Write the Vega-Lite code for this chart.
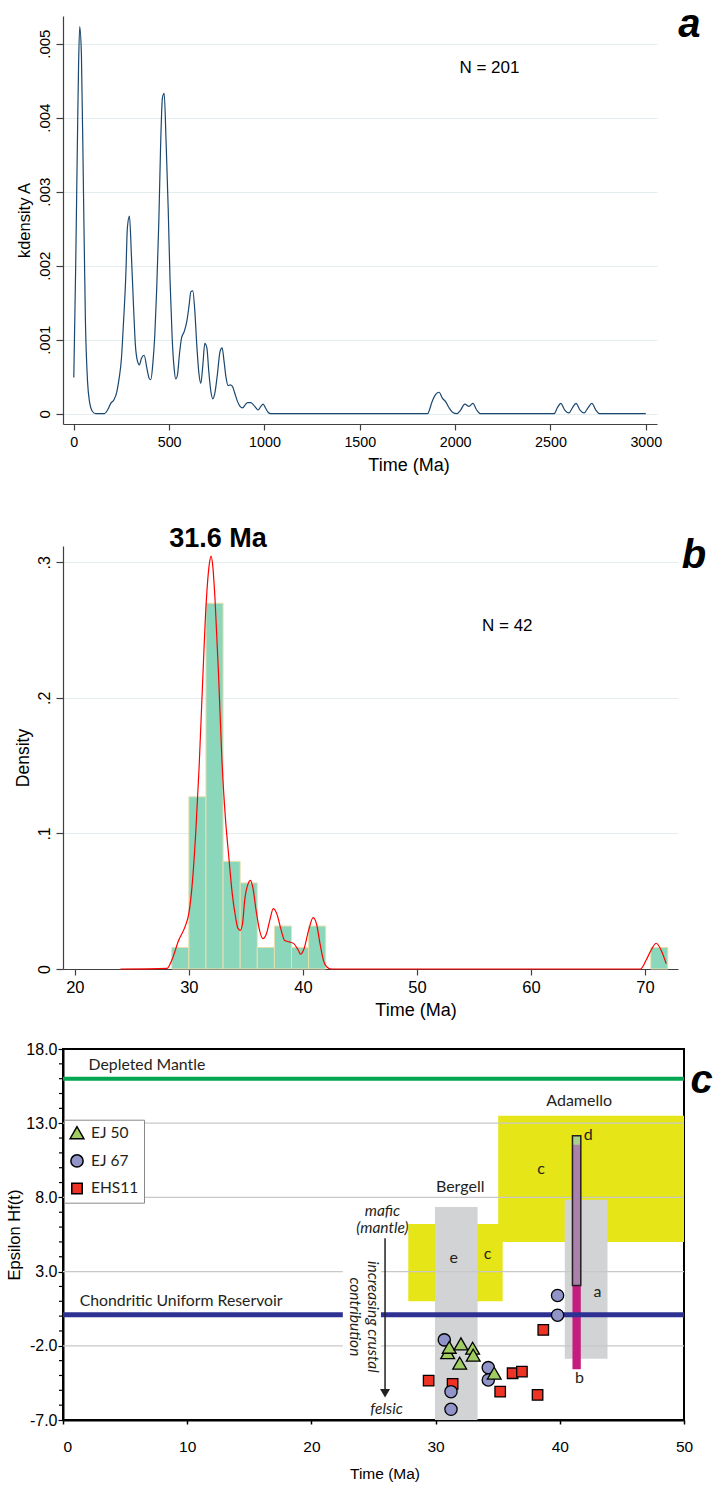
{
  "$schema": "https://vega.github.io/schema/vega-lite/v6.json",
  "padding": {"left": 5, "top": 5, "right": 0, "bottom": 0},
  "background": "white",
  "config": {
    "view": {"stroke": null},
    "font": "Liberation Sans",
    "axis": {"labelFont": "Liberation Sans", "titleFont": "Liberation Sans", "titleFontWeight": "normal", "labelColor": "black", "titleColor": "black", "domainColor": "#404040", "tickColor": "#404040", "grid": false, "labelOverlap": false, "labelFlush": false}
  },
  "bounds": "flush",
  "spacing": 122,
  "vconcat": [
    {
      "width": 594,
      "height": 408,
      "layer": [
        {
          "data": {"values": [
            {"age":0,"density":0.00049},{"age":10,"density":0.0020},{"age":19,"density":0.00368},{"age":25,"density":0.0047},{"age":31,"density":0.00523},{"age":40,"density":0.00485},{"age":51,"density":0.00296},{"age":61,"density":0.00125},{"age":72,"density":0.00044},{"age":82,"density":0.00017},{"age":98,"density":0.00003},{"age":115,"density":0},{"age":159,"density":0},{"age":177,"density":0.00005},{"age":194,"density":0.00014},{"age":211,"density":0.00019},{"age":226,"density":0.0003},{"age":238,"density":0.00048},{"age":250,"density":0.00075},{"age":260,"density":0.0012},{"age":273,"density":0.00188},{"age":281,"density":0.00251},{"age":292,"density":0.00267},{"age":302,"density":0.00215},{"age":313,"density":0.00147},{"age":323,"density":0.00093},{"age":334,"density":0.00071},{"age":344,"density":0.00066},{"age":355,"density":0.00075},{"age":369,"density":0.00079},{"age":383,"density":0.00062},{"age":395,"density":0.00048},{"age":404,"density":0.00046},{"age":414,"density":0.00066},{"age":425,"density":0.00107},{"age":435,"density":0.0017},{"age":446,"density":0.0026},{"age":455,"density":0.00359},{"age":465,"density":0.00427},{"age":474,"density":0.00433},{"age":484,"density":0.00368},{"age":495,"density":0.00278},{"age":505,"density":0.00179},{"age":516,"density":0.00102},{"age":526,"density":0.00062},{"age":535,"density":0.00047},{"age":544,"density":0.00053},{"age":554,"density":0.0008},{"age":565,"density":0.00102},{"age":579,"density":0.00111},{"age":593,"density":0.00125},{"age":605,"density":0.00147},{"age":614,"density":0.00165},{"age":624,"density":0.00166},{"age":635,"density":0.00138},{"age":645,"density":0.00093},{"age":656,"density":0.00055},{"age":666,"density":0.00041},{"age":677,"density":0.00066},{"age":687,"density":0.00095},{"age":698,"density":0.00089},{"age":708,"density":0.00057},{"age":719,"density":0.0003},{"age":729,"density":0.0002},{"age":740,"density":0.00028},{"age":753,"density":0.00053},{"age":767,"density":0.00084},{"age":778,"density":0.00089},{"age":788,"density":0.00071},{"age":799,"density":0.00048},{"age":809,"density":0.00038},{"age":820,"density":0.00039},{"age":832,"density":0.00037},{"age":844,"density":0.00028},{"age":858,"density":0.00017},{"age":872,"density":0.0001},{"age":885,"density":0.00008},{"age":899,"density":0.00012},{"age":911,"density":0.00015},{"age":928,"density":0.00015},{"age":942,"density":0.00012},{"age":955,"density":0.00008},{"age":967,"density":0.00005},{"age":981,"density":0.0001},{"age":993,"density":0.00013},{"age":1005,"density":0.00008},{"age":1019,"density":0.00002},{"age":1033,"density":0},{"age":1855,"density":0},{"age":1880,"density":0.00017},{"age":1898,"density":0.00026},{"age":1916,"density":0.00029},{"age":1933,"density":0.00021},{"age":1951,"density":0.00016},{"age":1968,"density":0.00008},{"age":1986,"density":0.00002},{"age":2009,"density":0},{"age":2029,"density":0.00005},{"age":2050,"density":0.00013},{"age":2073,"density":0.0001},{"age":2093,"density":0.00014},{"age":2113,"density":0.00005},{"age":2134,"density":0},{"age":2519,"density":0},{"age":2536,"density":0.00008},{"age":2554,"density":0.00014},{"age":2575,"density":0.00005},{"age":2597,"density":0.00001},{"age":2615,"density":0.00008},{"age":2634,"density":0.00014},{"age":2655,"density":0.00005},{"age":2676,"density":0.00001},{"age":2697,"density":0.00008},{"age":2717,"density":0.00014},{"age":2738,"density":0.00005},{"age":2758,"density":0},{"age":3000,"density":0}
          ]},
          "mark": {"type": "line", "color": "#1a476f", "strokeWidth": 1.2, "interpolate": "monotone"},
          "encoding": {
            "x": {"field": "age", "type": "quantitative", "scale": {"domain": [-56.6, 3058.7], "nice": false, "zero": false},
              "axis": {"title": "Time (Ma)", "titleX": 345.5, "values": [0,500,1000,1500,2000,2500,3000], "format": "d", "labelOverlap": false, "labelFontSize": 14.3, "titleFontSize": 18, "tickSize": 6, "labelPadding": 5, "titlePadding": 7, "domainWidth": 1.2, "tickWidth": 1.2}},
            "y": {"field": "density", "type": "quantitative", "scale": {"domain": [-0.000139, 0.005374], "nice": false, "zero": false},
              "axis": {"title": "kdensity A", "values": [0,0.001,0.002,0.003,0.004,0.005], "labelOverlap": false, "labelExpr": "datum.value === 0 ? '0' : replace(format(datum.value, '.3f'), '0.', '.')", "labelAngle": 270, "labelAlign": "center", "labelBaseline": "bottom", "labelFontSize": 15, "titleFontSize": 16.5, "tickSize": 7, "labelPadding": 4, "minExtent": 26, "maxExtent": 26, "titlePadding": 5, "grid": true, "gridColor": "#e3edf0", "gridWidth": 1.2, "domainWidth": 1.2, "tickWidth": 1.2}}
          }
        },
        {
          "data": {"values": [{"note": "N = 201", "age": 2180, "density": 0.004673}]},
          "mark": {"type": "text", "font": "Liberation Sans", "fontSize": 17, "align": "center", "baseline": "middle", "color": "black"},
          "encoding": {"x": {"field": "age", "type": "quantitative"}, "y": {"field": "density", "type": "quantitative"}, "text": {"field": "note"}}
        },
        {
          "data": {"values": [{"note": "a", "age": 3229, "density": 0.005085}]},
          "mark": {"type": "text", "font": "Liberation Sans", "fontSize": 40, "fontWeight": "bold", "fontStyle": "italic", "align": "center", "baseline": "alphabetic", "color": "black"},
          "encoding": {"x": {"field": "age", "type": "quantitative"}, "y": {"field": "density", "type": "quantitative"}, "text": {"field": "note"}}
        }
      ]
    },
    {
      "bounds": "flush",
      "spacing": 80,
      "vconcat": [
        {
          "width": 615,
          "height": 423,
          "layer": [
            {
              "data": {"values": [
                {"age": 28.5, "age2": 30, "density": 0.0159},
                {"age": 30, "age2": 31.5, "density": 0.127},
                {"age": 31.5, "age2": 33, "density": 0.2698},
                {"age": 33, "age2": 34.5, "density": 0.0794},
                {"age": 34.5, "age2": 36, "density": 0.0635},
                {"age": 36, "age2": 37.5, "density": 0.0159},
                {"age": 37.5, "age2": 39, "density": 0.0317},
                {"age": 39, "age2": 40.5, "density": 0.0159},
                {"age": 40.5, "age2": 42, "density": 0.0317},
                {"age": 70.5, "age2": 72, "density": 0.0159}
              ]},
              "mark": {"type": "rect", "fill": "#8ad7bb", "stroke": "#eadfae", "strokeWidth": 1},
              "encoding": {
                "x": {"field": "age", "type": "quantitative", "scale": {"domain": [18.965, 72.89], "nice": false, "zero": false},
                  "axis": {"title": "Time (Ma)", "titleX": 352.5, "values": [20,30,40,50,60,70], "labelOverlap": false, "labelFontSize": 16.5, "titleFontSize": 18, "tickSize": 6, "labelPadding": 4, "titlePadding": 6, "domainWidth": 1.2, "tickWidth": 1.2}},
                "x2": {"field": "age2"},
                "y": {"field": "density", "type": "quantitative", "scale": {"domain": [0, 0.312], "nice": false, "zero": false},
                  "axis": {"title": "Density", "values": [0,0.1,0.2,0.3], "labelOverlap": false, "labelExpr": "datum.value === 0 ? '0' : replace(format(datum.value, '.1f'), '0.', '.')", "labelAngle": 270, "labelAlign": "center", "labelBaseline": "bottom", "labelFontSize": 16, "titleFontSize": 17.5, "tickSize": 7, "labelPadding": 4, "minExtent": 27, "maxExtent": 27, "titlePadding": 4, "grid": true, "gridColor": "#e3edf0", "gridWidth": 1.2, "domainWidth": 1.2, "tickWidth": 1.2}},
                "y2": {"datum": 0}
              }
            },
            {
              "data": {"values": [
                {"age":24,"density":0},{"age":28.1,"density":0.0005},{"age":28.5,"density":0.0064},{"age":29.1,"density":0.021},{"age":29.7,"density":0.032},{"age":30.0,"density":0.041},{"age":30.3,"density":0.063},{"age":30.6,"density":0.100},{"age":30.9,"density":0.149},{"age":31.2,"density":0.21},{"age":31.5,"density":0.267},{"age":31.8,"density":0.299},{"age":31.95,"density":0.3046},{"age":32.1,"density":0.297},{"age":32.3,"density":0.272},{"age":32.6,"density":0.218},{"age":32.9,"density":0.154},{"age":33.2,"density":0.112},{"age":33.5,"density":0.083},{"age":33.8,"density":0.056},{"age":34.1,"density":0.038},{"age":34.3,"density":0.030},{"age":34.5,"density":0.0285},{"age":34.7,"density":0.033},{"age":34.9,"density":0.051},{"age":35.2,"density":0.063},{"age":35.4,"density":0.0654},{"age":35.6,"density":0.0605},{"age":35.9,"density":0.043},{"age":36.2,"density":0.0285},{"age":36.5,"density":0.0224},{"age":36.8,"density":0.026},{"age":37.1,"density":0.036},{"age":37.4,"density":0.0445},{"age":37.7,"density":0.041},{"age":38.1,"density":0.0285},{"age":38.4,"density":0.021},{"age":38.8,"density":0.020},{"age":39.2,"density":0.0187},{"age":39.6,"density":0.0138},{"age":39.8,"density":0.011},{"age":40.1,"density":0.015},{"age":40.5,"density":0.0285},{"age":40.9,"density":0.0379},{"age":41.2,"density":0.033},{"age":41.5,"density":0.0187},{"age":41.8,"density":0.0064},{"age":42.1,"density":0.0015},{"age":42.5,"density":0},{"age":69.6,"density":0},{"age":70.1,"density":0.0066},{"age":70.54,"density":0.014},{"age":70.98,"density":0.019},{"age":71.4,"density":0.014},{"age":71.85,"density":0.004}
              ]},
              "mark": {"type": "line", "color": "#ff0000", "strokeWidth": 1.2, "interpolate": "monotone"},
              "encoding": {"x": {"field": "age", "type": "quantitative"}, "y": {"field": "density", "type": "quantitative"}}
            },
            {
              "data": {"values": [{"note": "N = 42", "age": 57.92, "density": 0.253}]},
              "mark": {"type": "text", "font": "Liberation Sans", "fontSize": 17, "align": "center", "baseline": "middle", "color": "black"},
              "encoding": {"x": {"field": "age", "type": "quantitative"}, "y": {"field": "density", "type": "quantitative"}, "text": {"field": "note"}}
            },
            {
              "data": {"values": [{"note": "31.6 Ma", "age": 32.56, "density": 0.3112}]},
              "mark": {"type": "text", "font": "Liberation Sans", "fontSize": 27, "fontWeight": "bold", "align": "center", "baseline": "alphabetic", "color": "black"},
              "encoding": {"x": {"field": "age", "type": "quantitative"}, "y": {"field": "density", "type": "quantitative"}, "text": {"field": "note"}}
            },
            {
              "data": {"values": [{"note": "b", "age": 74.28, "density": 0.2955}]},
              "mark": {"type": "text", "font": "Liberation Sans", "fontSize": 40, "fontWeight": "bold", "fontStyle": "italic", "align": "center", "baseline": "alphabetic", "color": "black"},
              "encoding": {"x": {"field": "age", "type": "quantitative"}, "y": {"field": "density", "type": "quantitative"}, "text": {"field": "note"}}
            }
          ]
        },
        {
          "width": 621,
          "height": 371,
          "view": {"stroke": "black", "strokeWidth": 2},
          "layer": [
            {
              "data": {"values": [
                {"zone": "yellow", "t0": 27.8, "t1": 35.4, "e0": 1.0, "e1": 6.2},
                {"zone": "yellow", "t0": 35.04, "t1": 50, "e0": 5.0, "e1": 13.5},
                {"zone": "grey", "t0": 29.95, "t1": 33.38, "e0": -7, "e1": 7.36},
                {"zone": "grey", "t0": 40.4, "t1": 43.84, "e0": -2.87, "e1": 7.84}
              ]},
              "mark": {"type": "rect"},
              "encoding": {
                "x": {"field": "t0", "type": "quantitative", "scale": {"domain": [0, 50], "nice": false, "zero": false},
                  "axis": {"title": "Time (Ma)", "titleX": 321.5, "values": [0,10,20,30,40,50], "labelOverlap": false, "labelFontSize": 15.5, "titleFontSize": 15.5, "tickSize": 4, "labelPadding": 15, "titlePadding": 12, "domainColor": "black", "domainWidth": 2, "tickColor": "black", "tickWidth": 1.5,
                    "labelAlign": {"condition": {"test": "datum.value === 0", "value": "left"}, "value": "center"}}},
                "x2": {"field": "t1"},
                "y": {"field": "e0", "type": "quantitative", "scale": {"domain": [-7, 18], "nice": false, "zero": false},
                  "axis": {"title": "Epsilon Hf(t)", "values": [-7,-2,3,8,13,18], "labelOverlap": false,
                    "labelExpr": "datum.value < 0 ? '-' + format(-datum.value, '.1f') : format(datum.value, '.1f')",
                    "labelFontSize": 16, "titleFontSize": 16.5, "tickSize": 5, "labelPadding": 1, "minExtent": 37, "maxExtent": 37, "titlePadding": 4, "domainColor": "black", "domainWidth": 2, "tickColor": "black", "tickWidth": 1.2}},
                "y2": {"field": "e1"},
                "fill": {"field": "zone", "type": "nominal", "scale": {"domain": ["yellow", "grey", "b", "d", "d top"], "range": ["#e5e517", "#d1d3d4", "#c41d7f", "#ab80aa", "#a8d08d"]}, "legend": null}
              }
            },
            {
              "data": {"values": [{"e": -6}, {"e": -5}, {"e": -4}, {"e": -3}, {"e": -1}, {"e": 0}, {"e": 1}, {"e": 2}, {"e": 4}, {"e": 5}, {"e": 6}, {"e": 7}, {"e": 9}, {"e": 10}, {"e": 11}, {"e": 12}, {"e": 14}, {"e": 15}, {"e": 16}, {"e": 17}]},
              "mark": {"type": "rule", "color": "black", "strokeWidth": 1.2, "x2Offset": -4},
              "encoding": {"x": {"datum": 0}, "x2": {"datum": 0}, "y": {"field": "e", "type": "quantitative"}}
            },
            {
              "data": {"values": [{"e": 13}, {"e": 8}, {"e": 3}, {"e": -2}]},
              "mark": {"type": "rule", "color": "#c8c8c8", "strokeWidth": 1.3},
              "encoding": {"x": {"datum": 0}, "x2": {"datum": 50}, "y": {"field": "e", "type": "quantitative"}}
            },
            {
              "data": {"values": [
                {"zone": "b", "t0": 41.02, "t1": 41.69, "e0": -3.58, "e1": 2.06},
                {"zone": "d", "t0": 41.02, "t1": 41.69, "e0": 2.06, "e1": 12.15},
                {"zone": "d top", "t0": 41.02, "t1": 41.69, "e0": 11.55, "e1": 12.15}
              ]},
              "mark": {"type": "rect"},
              "encoding": {
                "x": {"field": "t0", "type": "quantitative"}, "x2": {"field": "t1"},
                "y": {"field": "e0", "type": "quantitative"}, "y2": {"field": "e1"},
                "fill": {"field": "zone", "type": "nominal", "legend": null}
              }
            },
            {
              "data": {"values": [{"t0": 41.02, "t1": 41.69, "e0": 2.06, "e1": 12.15}]},
              "mark": {"type": "rect", "fillOpacity": 0, "stroke": "#231f20", "strokeWidth": 1.5},
              "encoding": {"x": {"field": "t0", "type": "quantitative"}, "x2": {"field": "t1"}, "y": {"field": "e0", "type": "quantitative"}, "y2": {"field": "e1"}}
            },
            {
              "data": {"values": [{"e": 16}]},
              "mark": {"type": "rule", "color": "#00a651", "strokeWidth": 4},
              "encoding": {"x": {"datum": 0}, "x2": {"datum": 50}, "y": {"field": "e", "type": "quantitative"}}
            },
            {
              "data": {"values": [{"e": 0.1}]},
              "mark": {"type": "rule", "color": "#2e3192", "strokeWidth": 5},
              "encoding": {"x": {"datum": 0}, "x2": {"datum": 50}, "y": {"field": "e", "type": "quantitative"}}
            },
            {
              "data": {"values": [{"t0": 22.53, "t1": 25.6, "e0": -4.2, "e1": 4.1}]},
              "mark": {"type": "rect", "fill": "white"},
              "encoding": {"x": {"field": "t0", "type": "quantitative"}, "x2": {"field": "t1"}, "y": {"field": "e0", "type": "quantitative"}, "y2": {"field": "e1"}}
            },
            {
              "data": {"values": [{"t": 25.93, "e0": 5.25, "e1": -5.0}]},
              "mark": {"type": "rule", "color": "#231f20", "strokeWidth": 1.5},
              "encoding": {"x": {"field": "t", "type": "quantitative"}, "y": {"field": "e0", "type": "quantitative"}, "y2": {"field": "e1"}}
            },
            {
              "data": {"values": [{"t": 25.93, "e": -5.2}]},
              "mark": {"type": "point", "shape": "triangle-down", "filled": true, "color": "#231f20", "size": 100, "opacity": 1},
              "encoding": {"x": {"field": "t", "type": "quantitative"}, "y": {"field": "e", "type": "quantitative"}}
            },
            {
              "data": {"values": [
                {"sample": "EHS11", "t": 38.67, "e": -0.93},
                {"sample": "EHS11", "t": 29.44, "e": -4.35},
                {"sample": "EHS11", "t": 31.37, "e": -4.57},
                {"sample": "EHS11", "t": 35.2, "e": -5.09},
                {"sample": "EHS11", "t": 36.2, "e": -3.85},
                {"sample": "EHS11", "t": 36.95, "e": -3.74},
                {"sample": "EHS11", "t": 38.21, "e": -5.31},
                {"sample": "EJ 67", "t": 39.82, "e": 1.39},
                {"sample": "EJ 67", "t": 39.82, "e": 0.06},
                {"sample": "EJ 67", "t": 30.7, "e": -1.6},
                {"sample": "EJ 67", "t": 34.24, "e": -3.47},
                {"sample": "EJ 67", "t": 34.24, "e": -4.3},
                {"sample": "EJ 67", "t": 31.24, "e": -5.09},
                {"sample": "EJ 67", "t": 31.24, "e": -6.28},
                {"sample": "EJ 50", "t": 30.97, "e": -2.46},
                {"sample": "EJ 50", "t": 31.1, "e": -2.1},
                {"sample": "EJ 50", "t": 32.04, "e": -1.87},
                {"sample": "EJ 50", "t": 32.98, "e": -2.16},
                {"sample": "EJ 50", "t": 33.03, "e": -2.63},
                {"sample": "EJ 50", "t": 31.94, "e": -3.17},
                {"sample": "EJ 50", "t": 34.72, "e": -3.85}
              ]},
              "mark": {"type": "point", "filled": true, "stroke": "black", "strokeWidth": 1.3, "opacity": 1},
              "encoding": {
                "x": {"field": "t", "type": "quantitative"},
                "y": {"field": "e", "type": "quantitative"},
                "color": {"field": "sample", "type": "nominal", "scale": {"domain": ["EJ 50", "EJ 67", "EHS11"], "range": ["#9fcc63", "#9094c9", "#ee3224"]},
                  "legend": {"title": null, "orient": "none", "legendX": 1, "legendY": 1103.7, "padding": 5, "symbolOffset": 0, "rowPadding": 9.5, "labelOffset": 6, "labelFont": "Lato", "labelFontSize": 15.5, "labelColor": "#231f20", "symbolSize": 85, "fillColor": "white", "strokeColor": "#888888", "cornerRadius": 0,
                    "encode": {"symbols": {"update": {"stroke": {"value": "black"}, "strokeWidth": {"value": 1.3}}}}}},
                "shape": {"field": "sample", "type": "nominal", "scale": {"domain": ["EJ 50", "EJ 67", "EHS11"], "range": ["triangle-up", "circle", "square"]}},
                "size": {"field": "sample", "type": "nominal", "scale": {"domain": ["EJ 50", "EJ 67", "EHS11"], "range": [190, 110, 196]}, "legend": null}
              }
            },
            {
              "data": {"values": [
                {"lbl": "Adamello", "t": 41.56, "e": 14.51},
                {"lbl": "Bergell", "t": 31.98, "e": 8.73},
                {"lbl": "c", "t": 38.5, "e": 9.91},
                {"lbl": "d", "t": 42.28, "e": 12.2},
                {"lbl": "e", "t": 31.45, "e": 3.95},
                {"lbl": "c", "t": 34.19, "e": 4.2},
                {"lbl": "a", "t": 43.03, "e": 1.61},
                {"lbl": "b", "t": 41.58, "e": -4.19}
              ]},
              "mark": {"type": "text", "font": "Lato", "fontSize": 16, "align": "center", "baseline": "middle", "color": "#231f20"},
              "encoding": {"x": {"field": "t", "type": "quantitative"}, "y": {"field": "e", "type": "quantitative"}, "text": {"field": "lbl"}}
            },
            {
              "data": {"values": [
                {"lbl": "Depleted Mantle", "t": 2.06, "e": 16.9},
                {"lbl": "Chondritic Uniform Reservoir", "t": 1.34, "e": 1.05}
              ]},
              "mark": {"type": "text", "font": "Lato", "fontSize": 15.8, "align": "left", "baseline": "middle", "color": "#231f20"},
              "encoding": {"x": {"field": "t", "type": "quantitative"}, "y": {"field": "e", "type": "quantitative"}, "text": {"field": "lbl"}}
            },
            {
              "data": {"values": [
                {"lbl": "mafic", "t": 25.72, "e": 7.1},
                {"lbl": "(mantle)", "t": 25.72, "e": 5.97},
                {"lbl": "felsic", "t": 26.05, "e": -6.26}
              ]},
              "mark": {"type": "text", "font": "Lato", "fontSize": 15.5, "fontStyle": "italic", "align": "center", "baseline": "middle", "color": "#231f20"},
              "encoding": {"x": {"field": "t", "type": "quantitative"}, "y": {"field": "e", "type": "quantitative"}, "text": {"field": "lbl"}}
            },
            {
              "data": {"values": [{"lbl": "increasing crustal\ncontribution", "t": 24.95, "e": -0.05}]},
              "mark": {"type": "text", "font": "Lato", "fontSize": 15.5, "fontStyle": "italic", "align": "center", "baseline": "middle", "angle": 90, "lineBreak": "\n", "lineHeight": 17.5, "color": "#231f20"},
              "encoding": {"x": {"field": "t", "type": "quantitative"}, "y": {"field": "e", "type": "quantitative"}, "text": {"field": "lbl"}}
            },
            {
              "data": {"values": [{"lbl": "c", "t": 51.42, "e": 15.05}]},
              "mark": {"type": "text", "font": "Liberation Sans", "fontSize": 40, "fontWeight": "bold", "fontStyle": "italic", "align": "center", "baseline": "alphabetic", "color": "black"},
              "encoding": {"x": {"field": "t", "type": "quantitative"}, "y": {"field": "e", "type": "quantitative"}, "text": {"field": "lbl"}}
            }
          ]
        }
      ]
    }
  ]
}
